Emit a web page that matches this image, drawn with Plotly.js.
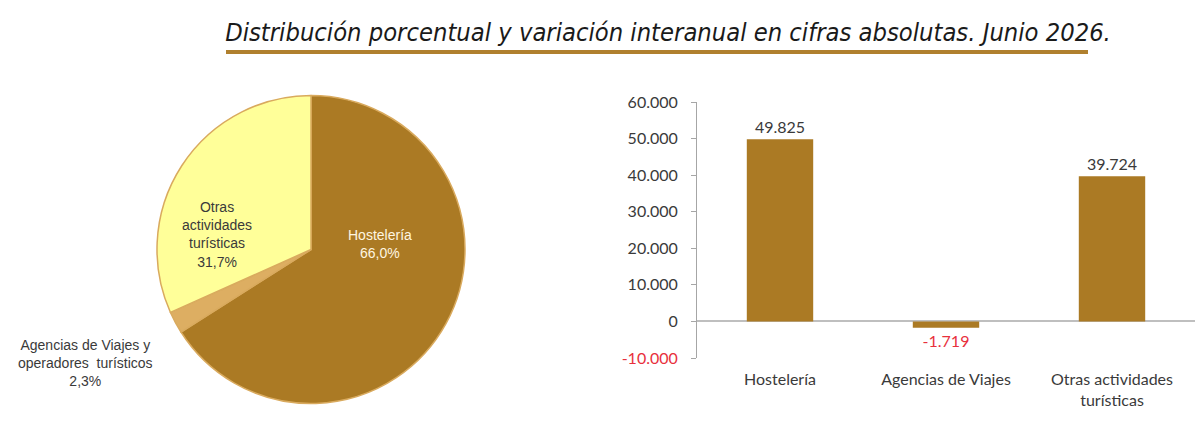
<!DOCTYPE html>
<html>
<head>
<meta charset="utf-8">
<script src="https://cdn.plot.ly/plotly-3.0.1.min.js"></script>
<style>html,body{margin:0;padding:0;background:#fff;}#chart{width:1200px;height:445px;}</style>
</head>
<body>
<div id="chart"></div>
<script>
// ---- Data ----
const titleText = 'Distribución porcentual y variación interanual en cifras absolutas. Junio 2026.';

const pieLabels = ['Hostelería', 'Agencias de Viajes y operadores turísticos', 'Otras actividades turísticas'];
const pieLabelLines = ['Hostelería', 'Agencias de Viajes y<br>operadores  turísticos', 'Otras<br>actividades<br>turísticas'];
const pieValues = [66.0, 2.3, 31.7];

const barCategories = ['Hostelería', 'Agencias de Viajes', 'Otras actividades turísticas'];
const barTickText = ['Hostelería', 'Agencias de Viajes', 'Otras actividades<br>turísticas'];
const barValues = [49825, -1719, 39724];

const yTickVals = [-10000, 0, 10000, 20000, 30000, 40000, 50000, 60000];
const yTickText = ['-10.000', '0', '10.000', '20.000', '30.000', '40.000', '50.000', '60.000'];

// ---- Styles ----
const W = 1200, H = 445;
const px = x => x / W;
const py = y => 1 - y / H;
const brown = '#AB7A24';
const pieColors = ['#AB7A24', '#DDAE62', '#FFFF99'];
const red = '#E8303C';
const dark = '#3a3a3a';

const fmtPct = v => v.toFixed(1).replace('.', ',') + '%';

const pie = {
  type: 'pie',
  labels: pieLabels,
  values: pieValues,
  sort: false,
  direction: 'clockwise',
  rotation: 0,
  textinfo: 'none',
  hoverinfo: 'label+percent',
  marker: { colors: pieColors, line: { color: '#D9AA5E', width: 1.5 } },
  domain: { x: [px(157), px(465)], y: [py(404), py(95)] },
  showlegend: false
};

const bar = {
  type: 'bar',
  x: barCategories,
  y: barValues,
  marker: { color: brown },
  width: 0.4,
  text: barValues,
  texttemplate: '%{y:,}',
  textposition: 'outside',
  cliponaxis: false,
  textfont: { family: 'Lato, sans-serif', size: 16, color: barValues.map(v => v < 0 ? red : dark) },
  xaxis: 'x', yaxis: 'y',
  showlegend: false
};

const pieAnnPos = [
  { x: 380, y: 243.5, color: '#FFF6E0' },
  { x: 85, y: 363, color: dark },
  { x: 217, y: 234, color: dark }
];
const annotations = pieLabelLines.map((t, i) => ({
  text: t + '<br>' + fmtPct(pieValues[i]),
  x: px(pieAnnPos[i].x), y: py(pieAnnPos[i].y),
  xref: 'paper', yref: 'paper', xanchor: 'center', yanchor: 'middle',
  showarrow: false, align: 'center',
  font: { family: '"Liberation Sans", Arial, sans-serif', size: 14, color: pieAnnPos[i].color }
}));

const layout = {
  width: W, height: H,
  margin: { l: 0, r: 0, t: 0, b: 0 },
  paper_bgcolor: '#fff', plot_bgcolor: 'rgba(0,0,0,0)',
  separators: ',.',
  title: {
    text: titleText,
    x: px(668), xanchor: 'center', xref: 'paper',
    y: py(32), yanchor: 'middle', yref: 'container',
    font: { family: '"DejaVu Sans Condensed", "DejaVu Sans", sans-serif', size: 25.3, style: 'italic', color: '#1a1a1a' }
  },
  xaxis: {
    domain: [px(697), px(1195)],
    range: [-0.5, 2.5],
    tickvals: barCategories,
    ticktext: barTickText,
    showline: false, showgrid: false, zeroline: false, ticks: '',
    ticklabelstandoff: 10,
    tickfont: { family: 'Lato, sans-serif', size: 16, color: dark },
    fixedrange: true
  },
  yaxis: {
    domain: [py(358), py(102)],
    range: [-10000, 60000],
    tickvals: yTickVals,
    ticktext: yTickText.map((t, i) => yTickVals[i] < 0 ? '<span style="color:' + red + '">' + t + '</span>' : t),
    showline: true, linecolor: '#A6A6A6', linewidth: 1,
    ticks: 'outside', ticklen: 5, tickcolor: '#A6A6A6',
    ticklabelstandoff: 10,
    showgrid: false,
    zeroline: true, zerolinecolor: '#BFBFBF', zerolinewidth: 2,
    tickfont: { family: 'Lato, sans-serif', size: 16, color: dark },
    fixedrange: true
  },
  shapes: [{
    type: 'line', xref: 'paper', yref: 'paper',
    x0: px(226), x1: px(1088), y0: py(52), y1: py(52),
    line: { color: '#B0802E', width: 4 }
  }],
  annotations: annotations
};

Plotly.newPlot('chart', [pie, bar], layout, { displayModeBar: false, staticPlot: true });
</script>
</body>
</html>
